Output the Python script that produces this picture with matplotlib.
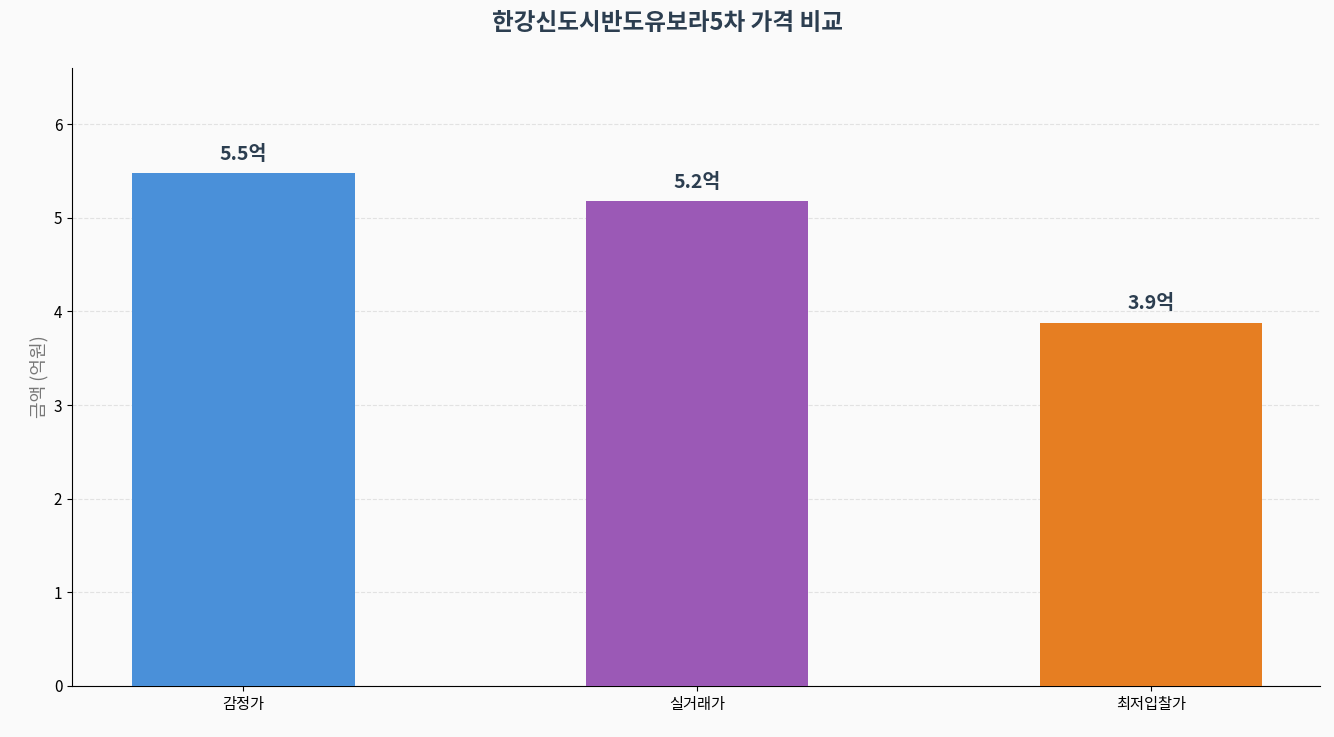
import matplotlib
matplotlib.use("Agg")
import matplotlib.pyplot as plt

plt.rcParams['font.family'] = ['Noto Sans CJK KR', 'DejaVu Sans']

categories = ['감정가', '실거래가', '최저입찰가']
values = [5.48, 5.18, 3.88]
labels = ['5.5억', '5.2억', '3.9억']
colors = ['#4A90D9', '#9B59B6', '#E67E22']

fig = plt.figure(figsize=(13.34, 7.37), dpi=100, facecolor='#FAFAFA')
ax = fig.add_axes([72/1334, 1-686/737, (1320-72)/1334, (686-68)/737])
ax.set_facecolor('#FAFAFA')
x = range(len(categories))
ax.bar(x, values, width=0.49, color=colors, zorder=3)
for xi, v, l in zip(x, values, labels):
    ax.text(xi, v + 0.1, l, ha='center', va='bottom', fontsize=14, fontweight='bold', color='#2C3E50')
ax.set_xticks(list(x))
ax.set_xticklabels(categories, fontsize=12)
ax.set_xlim(-0.378, 2.373)
ax.set_ylim(0, 6.6)
ax.set_yticks(range(0, 7))
ax.tick_params(labelsize=11)
ax.set_ylabel('금액 (억원)', fontsize=13, color='#777777')
ax.grid(axis='y', linestyle='--', color='#DDDDDD', alpha=0.8, zorder=0)
ax.spines['top'].set_visible(False)
ax.spines['right'].set_visible(False)
fig.suptitle('한강신도시반도유보라5차 가격 비교', fontsize=17, fontweight='bold', color='#2C3E50', y=0.985)
fig.savefig('out.png', dpi=100, facecolor='#FAFAFA')
